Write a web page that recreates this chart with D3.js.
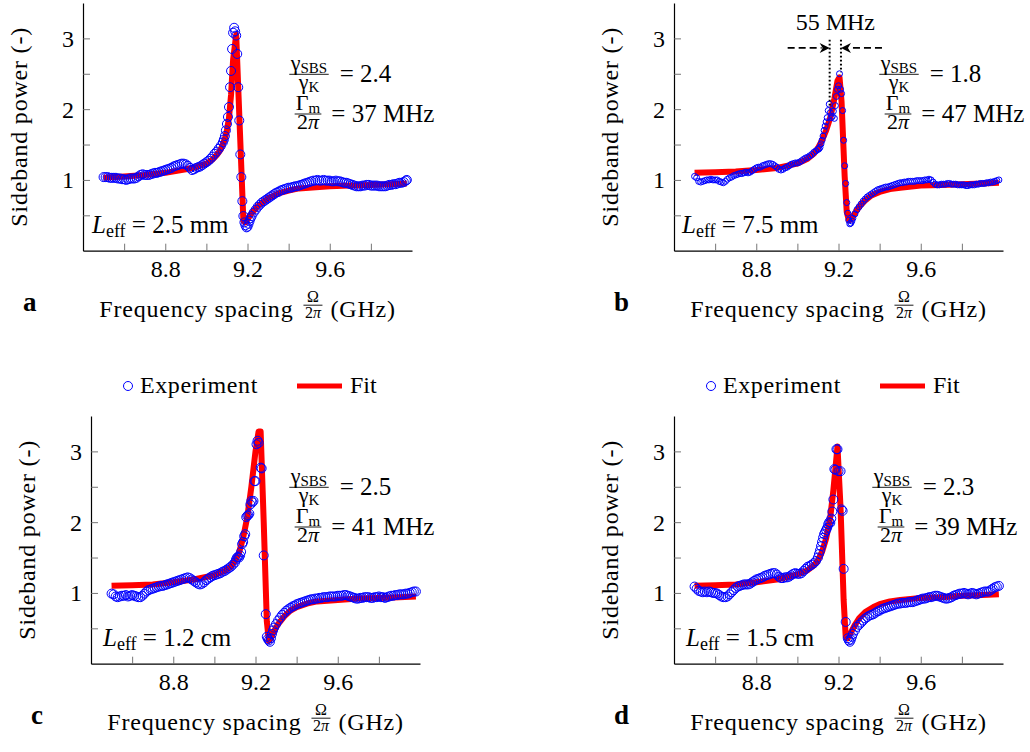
<!DOCTYPE html>
<html>
<head>
<meta charset="utf-8">
<title>Sideband power vs frequency spacing</title>
<script src="https://cdn.jsdelivr.net/npm/d3@7/dist/d3.min.js"></script>
<style>
  body { margin: 0; background: #fff; }
  svg { display: block; }
  svg text { font-family: "Liberation Serif", "DejaVu Serif", serif; fill: #000; }
</style>
</head>
<body>
<svg id="chart" width="1030" height="752"></svg>
<script>
// ---- ticks and labels ----
const xTicks = [8.6, 8.8, 9.0, 9.2, 9.4, 9.6, 9.8];
const xTickLabels = [8.8, 9.2, 9.6];
const yTicks = [0.5, 1, 1.5, 2, 2.5, 3];
const yTickLabels = [1, 2, 3];

const panelLetters = ["a", "b", "c", "d"];
const leffValues = ["2.5 mm", "7.5 mm", "1.2 cm", "1.5 cm"];
const gainRatios = ["2.4", "1.8", "2.5", "2.3"];
const linewidthsMHz = ["37", "47", "41", "39"];

// ---- measured sideband power (GHz, -) ----
const expA = [
[8.50,1.04],[8.51,1.04],[8.52,1.04],[8.53,1.03],[8.54,1.03],[8.55,1.03],[8.56,1.03],[8.57,1.02],[8.58,1.02],[8.59,1.01],
[8.60,1.01],[8.61,1.00],[8.62,1.01],[8.63,1.02],[8.64,1.02],[8.65,1.02],[8.66,1.03],[8.67,1.05],[8.68,1.07],[8.69,1.08],
[8.70,1.07],[8.71,1.07],[8.72,1.07],[8.73,1.08],[8.74,1.09],[8.75,1.10],[8.76,1.10],[8.77,1.11],[8.78,1.12],[8.79,1.13],
[8.80,1.14],[8.81,1.15],[8.82,1.16],[8.83,1.17],[8.84,1.19],[8.85,1.20],[8.86,1.21],[8.87,1.22],[8.88,1.23],[8.89,1.23],
[8.90,1.22],[8.91,1.20],[8.92,1.17],[8.93,1.14],[8.94,1.15],[8.95,1.17],[8.96,1.18],[8.97,1.19],[8.98,1.21],[8.99,1.23],
[9.00,1.25],[9.01,1.27],[9.02,1.30],[9.03,1.33],[9.04,1.37],[9.05,1.40],[9.06,1.44],[9.07,1.48],[9.08,1.53],[9.085,1.57],
[9.09,1.62],[9.095,1.70],[9.10,1.79],[9.105,1.89],[9.11,2.03],[9.115,2.31],[9.12,2.54],[9.125,2.85],[9.13,3.08],[9.135,3.15],
[9.14,3.10],[9.145,3.04],[9.15,2.78],[9.155,2.31],[9.16,1.84],[9.165,1.36],[9.17,1.04],[9.175,0.70],[9.18,0.49],[9.185,0.40],
[9.19,0.36],[9.195,0.33],[9.20,0.34],[9.205,0.38],[9.21,0.42],[9.215,0.46],[9.22,0.49],[9.23,0.54],[9.24,0.58],[9.25,0.62],
[9.26,0.65],[9.27,0.68],[9.28,0.70],[9.29,0.72],[9.30,0.74],[9.31,0.76],[9.32,0.78],[9.33,0.80],[9.34,0.82],[9.35,0.83],
[9.36,0.85],[9.37,0.86],[9.38,0.87],[9.39,0.88],[9.40,0.89],[9.41,0.89],[9.42,0.90],[9.43,0.91],[9.44,0.91],[9.45,0.92],
[9.46,0.93],[9.47,0.94],[9.48,0.95],[9.49,0.96],[9.50,0.97],[9.51,0.98],[9.52,0.99],[9.53,0.99],[9.54,1.00],[9.55,0.99],
[9.56,0.99],[9.57,1.00],[9.58,0.99],[9.59,0.99],[9.60,0.99],[9.61,0.98],[9.62,0.98],[9.63,0.99],[9.64,0.98],[9.65,0.98],
[9.66,0.97],[9.67,0.96],[9.68,0.96],[9.69,0.95],[9.70,0.94],[9.71,0.93],[9.72,0.92],[9.73,0.91],[9.74,0.91],[9.75,0.91],
[9.76,0.92],[9.77,0.92],[9.78,0.93],[9.79,0.93],[9.80,0.92],[9.81,0.92],[9.82,0.92],[9.83,0.92],[9.84,0.91],[9.85,0.91],
[9.86,0.91],[9.87,0.91],[9.88,0.92],[9.89,0.93],[9.90,0.93],[9.91,0.94],[9.92,0.94],[9.93,0.95],[9.94,0.96],[9.95,0.96],
[9.96,0.97],[9.97,0.99],[9.975,1.00]
];

const expB = [
[8.50,1.05],[8.51,1.03],[8.52,0.98],[8.53,0.97],[8.54,0.98],[8.55,0.99],[8.56,1.00],[8.57,1.00],[8.58,1.01],[8.59,1.00],
[8.60,1.00],[8.61,1.00],[8.62,0.98],[8.63,0.97],[8.64,0.96],[8.65,0.98],[8.66,1.01],[8.67,1.03],[8.68,1.04],[8.69,1.06],
[8.70,1.07],[8.71,1.08],[8.72,1.09],[8.73,1.09],[8.74,1.10],[8.75,1.11],[8.76,1.10],[8.77,1.11],[8.78,1.13],[8.79,1.15],
[8.80,1.17],[8.81,1.18],[8.82,1.18],[8.83,1.20],[8.84,1.21],[8.85,1.22],[8.86,1.23],[8.87,1.23],[8.88,1.22],[8.89,1.20],
[8.90,1.18],[8.91,1.15],[8.92,1.14],[8.93,1.15],[8.94,1.17],[8.95,1.18],[8.96,1.20],[8.97,1.22],[8.98,1.23],[8.99,1.24],
[9.00,1.24],[9.01,1.25],[9.02,1.27],[9.03,1.29],[9.04,1.31],[9.05,1.32],[9.06,1.34],[9.07,1.36],[9.08,1.39],[9.09,1.41],
[9.10,1.43],[9.105,1.44],[9.11,1.46],[9.115,1.51],[9.12,1.56],[9.125,1.62],[9.13,1.70],[9.135,1.76],[9.14,1.82],[9.145,1.88],
[9.15,1.98],[9.155,2.07],[9.16,1.95],[9.165,1.88],[9.17,1.90],[9.175,1.97],[9.18,1.87],[9.185,2.05],[9.19,2.18],[9.195,2.28],
[9.20,2.33],[9.205,2.50],[9.21,2.28],[9.215,2.22],[9.22,1.98],[9.225,1.56],[9.23,1.20],[9.235,0.95],[9.24,0.68],[9.245,0.53],
[9.25,0.43],[9.255,0.38],[9.26,0.39],[9.265,0.42],[9.27,0.46],[9.28,0.52],[9.29,0.58],[9.30,0.62],[9.31,0.66],[9.32,0.70],
[9.33,0.73],[9.34,0.76],[9.35,0.78],[9.36,0.80],[9.37,0.82],[9.38,0.84],[9.39,0.86],[9.40,0.87],[9.41,0.88],[9.42,0.89],
[9.43,0.90],[9.44,0.90],[9.45,0.91],[9.46,0.92],[9.47,0.93],[9.48,0.94],[9.49,0.95],[9.50,0.96],[9.51,0.96],[9.52,0.97],
[9.53,0.97],[9.54,0.98],[9.55,0.98],[9.56,0.98],[9.57,0.98],[9.58,0.99],[9.59,0.99],[9.60,0.99],[9.61,0.99],[9.62,1.00],
[9.63,1.00],[9.64,1.01],[9.65,1.00],[9.66,0.97],[9.67,0.94],[9.68,0.93],[9.69,0.93],[9.70,0.94],[9.71,0.94],[9.72,0.94],
[9.73,0.95],[9.74,0.95],[9.75,0.94],[9.76,0.94],[9.77,0.94],[9.78,0.93],[9.79,0.93],[9.80,0.93],[9.81,0.93],[9.82,0.92],
[9.83,0.92],[9.84,0.93],[9.85,0.93],[9.86,0.93],[9.87,0.94],[9.88,0.94],[9.89,0.95],[9.90,0.95],[9.91,0.95],[9.92,0.96],
[9.93,0.96],[9.94,0.97],[9.95,0.97],[9.96,0.98],[9.97,0.99],[9.98,1.00]
];

const expC = [
[8.50,0.99],[8.51,0.98],[8.52,0.95],[8.53,0.94],[8.54,0.95],[8.55,0.96],[8.56,0.96],[8.57,0.97],[8.58,0.95],[8.59,0.96],
[8.60,0.97],[8.61,0.96],[8.62,0.95],[8.63,0.94],[8.64,0.94],[8.65,0.96],[8.66,0.99],[8.67,1.02],[8.68,1.04],[8.69,1.05],
[8.70,1.06],[8.71,1.07],[8.72,1.08],[8.73,1.09],[8.74,1.10],[8.75,1.10],[8.76,1.11],[8.77,1.12],[8.78,1.13],[8.79,1.14],
[8.80,1.15],[8.81,1.16],[8.82,1.17],[8.83,1.18],[8.84,1.19],[8.85,1.20],[8.86,1.21],[8.87,1.22],[8.88,1.21],[8.89,1.19],
[8.90,1.17],[8.91,1.15],[8.92,1.13],[8.93,1.12],[8.94,1.13],[8.95,1.15],[8.96,1.18],[8.97,1.20],[8.98,1.22],[8.99,1.24],
[9.00,1.25],[9.01,1.26],[9.02,1.27],[9.03,1.28],[9.04,1.30],[9.05,1.31],[9.06,1.33],[9.07,1.35],[9.08,1.37],[9.09,1.40],
[9.10,1.43],[9.105,1.47],[9.11,1.50],[9.115,1.51],[9.12,1.50],[9.125,1.53],[9.13,1.58],[9.135,1.69],[9.14,1.72],[9.145,1.80],
[9.15,1.83],[9.155,2.07],[9.16,2.09],[9.165,2.10],[9.17,2.12],[9.175,2.25],[9.18,2.30],[9.185,2.28],[9.19,2.30],[9.195,2.58],
[9.20,2.58],[9.205,3.10],[9.21,3.15],[9.215,3.12],[9.225,2.77],[9.23,2.76],[9.24,1.53],[9.25,0.70],[9.255,0.38],[9.26,0.35],
[9.265,0.33],[9.27,0.31],[9.275,0.36],[9.28,0.42],[9.285,0.47],[9.29,0.51],[9.30,0.56],[9.31,0.61],[9.32,0.65],[9.33,0.69],
[9.34,0.72],[9.35,0.75],[9.36,0.77],[9.37,0.79],[9.38,0.81],[9.39,0.82],[9.40,0.84],[9.41,0.85],[9.42,0.86],[9.43,0.87],
[9.44,0.88],[9.45,0.89],[9.46,0.90],[9.47,0.91],[9.48,0.91],[9.49,0.92],[9.50,0.92],[9.51,0.93],[9.52,0.93],[9.53,0.94],
[9.54,0.94],[9.55,0.94],[9.56,0.95],[9.57,0.95],[9.58,0.95],[9.59,0.95],[9.60,0.96],[9.61,0.96],[9.62,0.96],[9.63,0.97],
[9.64,0.97],[9.65,0.96],[9.66,0.95],[9.67,0.94],[9.68,0.93],[9.69,0.92],[9.70,0.92],[9.71,0.93],[9.72,0.93],[9.73,0.94],
[9.74,0.94],[9.75,0.94],[9.76,0.93],[9.77,0.93],[9.78,0.94],[9.79,0.94],[9.80,0.95],[9.81,0.94],[9.82,0.94],[9.83,0.93],
[9.84,0.94],[9.85,0.95],[9.86,0.96],[9.87,0.96],[9.88,0.97],[9.89,0.97],[9.90,0.98],[9.91,0.98],[9.92,0.98],[9.93,0.99],
[9.94,0.99],[9.95,1.00],[9.96,1.01],[9.97,1.02],[9.98,1.02]
];

const expD = [
[8.50,1.09],[8.51,1.06],[8.52,1.03],[8.53,1.02],[8.54,1.01],[8.55,1.02],[8.56,1.01],[8.57,1.02],[8.58,1.01],[8.59,1.00],
[8.60,1.00],[8.61,0.99],[8.62,0.97],[8.63,0.95],[8.64,0.94],[8.65,0.94],[8.66,0.95],[8.67,0.98],[8.68,1.01],[8.69,1.04],
[8.70,1.07],[8.71,1.09],[8.72,1.10],[8.73,1.11],[8.74,1.12],[8.75,1.12],[8.76,1.12],[8.77,1.13],[8.78,1.15],[8.79,1.17],
[8.80,1.19],[8.81,1.20],[8.82,1.21],[8.83,1.22],[8.84,1.24],[8.85,1.25],[8.86,1.26],[8.87,1.27],[8.88,1.28],[8.89,1.28],
[8.90,1.26],[8.91,1.23],[8.92,1.21],[8.93,1.21],[8.94,1.22],[8.95,1.22],[8.96,1.23],[8.97,1.25],[8.98,1.27],[8.99,1.28],
[9.00,1.27],[9.01,1.27],[9.02,1.28],[9.03,1.31],[9.04,1.34],[9.05,1.37],[9.06,1.38],[9.07,1.40],[9.08,1.42],[9.09,1.45],
[9.10,1.50],[9.105,1.55],[9.11,1.60],[9.115,1.66],[9.12,1.72],[9.125,1.78],[9.13,1.83],[9.135,1.86],[9.14,1.89],[9.145,1.92],
[9.15,1.97],[9.155,2.00],[9.16,1.99],[9.165,2.05],[9.17,2.15],[9.175,2.32],[9.18,2.75],[9.185,2.74],[9.19,3.03],[9.195,3.03],
[9.20,2.72],[9.21,2.72],[9.215,2.18],[9.22,2.16],[9.225,1.34],[9.235,0.59],[9.245,0.36],[9.25,0.33],[9.255,0.31],[9.26,0.34],
[9.265,0.38],[9.27,0.42],[9.28,0.47],[9.29,0.52],[9.30,0.55],[9.31,0.58],[9.32,0.61],[9.33,0.64],[9.34,0.66],[9.35,0.68],
[9.36,0.69],[9.37,0.70],[9.38,0.72],[9.39,0.74],[9.40,0.75],[9.41,0.77],[9.42,0.78],[9.43,0.79],[9.44,0.80],[9.45,0.81],
[9.46,0.82],[9.47,0.83],[9.48,0.84],[9.49,0.85],[9.50,0.85],[9.51,0.86],[9.52,0.86],[9.53,0.86],[9.54,0.87],[9.55,0.87],
[9.56,0.87],[9.57,0.88],[9.58,0.89],[9.59,0.90],[9.60,0.91],[9.61,0.92],[9.62,0.92],[9.63,0.93],[9.64,0.94],[9.65,0.94],
[9.66,0.95],[9.67,0.96],[9.68,0.96],[9.69,0.95],[9.70,0.94],[9.71,0.93],[9.72,0.92],[9.73,0.92],[9.74,0.93],[9.75,0.94],
[9.76,0.96],[9.77,0.97],[9.78,0.98],[9.79,0.99],[9.80,0.99],[9.81,1.00],[9.82,0.99],[9.83,0.98],[9.84,0.99],[9.85,1.00],
[9.86,0.99],[9.87,0.98],[9.88,0.99],[9.89,1.00],[9.90,1.01],[9.91,1.02],[9.92,1.02],[9.93,1.02],[9.94,1.04],[9.95,1.06],
[9.96,1.08],[9.97,1.09],[9.98,1.10]
];

// ---- fitted curves ----
const fitA = [
[8.50,1.03],[8.60,1.05],[8.70,1.07],[8.80,1.10],[8.90,1.15],[8.95,1.18],[9.00,1.23],[9.03,1.29],[9.05,1.35],[9.07,1.43],
[9.09,1.58],[9.10,1.70],[9.11,1.88],[9.12,2.20],[9.13,2.70],[9.145,3.05],[9.18,0.42],[9.19,0.40],[9.20,0.44],[9.22,0.53],
[9.25,0.63],[9.30,0.74],[9.35,0.81],[9.40,0.85],[9.45,0.88],[9.50,0.89],[9.60,0.91],[9.70,0.92],[9.80,0.93],[9.90,0.94],[9.975,0.95]
];
const fitB = [
[8.50,1.10],[8.60,1.11],[8.70,1.12],[8.80,1.14],[8.90,1.17],[9.00,1.23],[9.05,1.30],[9.08,1.37],[9.10,1.45],[9.12,1.56],
[9.14,1.70],[9.16,1.88],[9.18,2.15],[9.195,2.40],[9.205,2.45],[9.215,2.10],[9.23,1.05],[9.24,0.55],[9.25,0.43],[9.26,0.44],
[9.28,0.53],[9.30,0.62],[9.33,0.71],[9.36,0.78],[9.40,0.83],[9.45,0.87],[9.50,0.89],[9.60,0.92],[9.70,0.93],[9.80,0.94],[9.90,0.95],[9.98,0.96]
];
const fitC = [
[8.50,1.10],[8.60,1.11],[8.70,1.12],[8.80,1.15],[8.90,1.19],[9.00,1.25],[9.05,1.31],[9.08,1.37],[9.10,1.45],[9.12,1.57],
[9.14,1.78],[9.16,2.07],[9.18,2.50],[9.20,3.00],[9.215,3.28],[9.225,3.28],[9.24,2.00],[9.255,0.60],[9.265,0.32],[9.275,0.36],
[9.29,0.46],[9.31,0.56],[9.34,0.67],[9.37,0.75],[9.40,0.80],[9.45,0.85],[9.50,0.88],[9.60,0.90],[9.70,0.92],[9.80,0.93],[9.90,0.94],[9.98,0.95]
];
const fitD = [
[8.50,1.10],[8.60,1.11],[8.70,1.12],[8.80,1.15],[8.90,1.19],[9.00,1.26],[9.05,1.32],[9.08,1.39],[9.10,1.46],[9.12,1.58],
[9.14,1.77],[9.16,2.07],[9.175,2.45],[9.195,3.07],[9.21,2.20],[9.225,0.90],[9.235,0.38],[9.245,0.36],[9.26,0.44],[9.28,0.55],
[9.30,0.64],[9.33,0.73],[9.37,0.80],[9.40,0.84],[9.45,0.88],[9.50,0.90],[9.60,0.93],[9.70,0.94],[9.80,0.96],[9.90,0.97],[9.98,0.98]
];

// linewidth marker in panel b
const fwhmEdges = [9.157, 9.212];
const fwhmGuideEnds = [2.05, 2.52];
const fwhmLabel = "55 MHz";

const experiments = [expA, expB, expC, expD];
const fits = [fitA, fitB, fitC, fitD];

// ---- layout ----
const SERIF = '"Liberation Serif", "DejaVu Serif", serif';
const W = 329, H = 247.7;
const layout = [
  {left: 83,  top: 3,   fracDx: 226, leffDx: 9,  r: 4.5},
  {left: 674, top: 3,   fracDx: 225, leffDx: 8,  r: 3},
  {left: 91,  top: 416, fracDx: 218, leffDx: 12, r: 4.5},
  {left: 674, top: 416, fracDx: 218, leffDx: 12, r: 4.5}
];

const svg = d3.select("#chart");
svg.append("rect").attr("width", 1030).attr("height", 752).attr("fill", "#fff");

const x = d3.scaleLinear().domain([8.4, 10.0]).range([0, W]);
const y = d3.scaleLinear().domain([0, 3.5]).range([H, 0]);

function txt(g) {
  return g.append("text").style("font-family", SERIF).attr("fill", "#000");
}

// text made of pieces: {t, it, sub}
function richText(g, parts, size, subSize) {
  const t = txt(g).attr("font-size", size);
  let shift = 0;
  parts.forEach(p => {
    const ts = t.append("tspan").text(p.t);
    const want = p.sub ? 3 : 0;
    if (want !== shift) { ts.attr("dy", want - shift); shift = want; }
    if (p.sub) ts.attr("font-size", subSize);
    if (p.it) ts.attr("font-style", "italic");
  });
  return t;
}

function fraction(g, cx, barY, num, den, size, subSize, upOff, downOff) {
  const n = richText(g, num, size, subSize).attr("text-anchor", "middle").attr("x", cx).attr("y", barY - upOff);
  const d = richText(g, den, size, subSize).attr("text-anchor", "middle").attr("x", cx).attr("y", barY + downOff);
  const w = Math.max(n.node().getBBox().width, d.node().getBBox().width) + 2;
  g.append("line")
    .attr("x1", cx - w / 2).attr("x2", cx + w / 2)
    .attr("y1", barY).attr("y2", barY)
    .attr("stroke", "#000").attr("stroke-width", 0.9);
  return w;
}

const line = d3.line().x(d => x(d[0])).y(d => y(d[1]));

layout.forEach((L, i) => {
  const g = svg.append("g").attr("transform", `translate(${L.left},${L.top})`);

  // fit underneath, circles on top
  g.append("path")
    .datum(fits[i])
    .attr("d", line)
    .attr("fill", "none")
    .attr("stroke", "#ff0000")
    .attr("stroke-width", 6)
    .attr("stroke-linejoin", "round");

  g.append("g").selectAll("circle")
    .data(experiments[i])
    .join("circle")
    .attr("cx", d => x(d[0]))
    .attr("cy", d => y(d[1]))
    .attr("r", L.r)
    .attr("fill", "none")
    .attr("stroke", "#0000ff")
    .attr("stroke-width", 1);

  // axes (ticks point inwards)
  const xAxis = d3.axisBottom(x).tickValues(xTicks)
    .tickSizeInner(-7).tickSizeOuter(0).tickPadding(9)
    .tickFormat(d => xTickLabels.includes(d) ? d3.format(".1f")(d) : "");
  const yAxis = d3.axisLeft(y).tickValues(yTicks)
    .tickSizeInner(-7).tickSizeOuter(0).tickPadding(9)
    .tickFormat(d => yTickLabels.includes(d) ? String(d) : "");

  const ax = g.append("g").attr("transform", `translate(0,${H})`).call(xAxis);
  const ay = g.append("g").call(yAxis);
  [ax, ay].forEach(a => {
    a.attr("font-family", null);
    a.select(".domain").attr("stroke", "#000").attr("stroke-width", 1.2);
    a.selectAll(".tick line").attr("stroke", "#666").attr("stroke-width", 0.9);
    a.selectAll(".tick text").attr("font-size", 24).attr("fill", "#000")
      .style("font-family", SERIF);
  });
  ax.selectAll(".tick text").attr("dy", "0.72em");
  ay.selectAll(".tick text").attr("dy", "0.33em");

  // y title
  txt(g)
    .attr("transform", `translate(-56.5,${H / 2}) rotate(-90)`)
    .attr("text-anchor", "middle")
    .attr("font-size", 24)
    .attr("letter-spacing", 0.8)
    .text("Sideband power (-)");

  // x title: Frequency spacing Ω/2π (GHz)
  const xt = g.append("g");
  const baseY = H + 66;
  const t1 = txt(xt).attr("font-size", 24).attr("letter-spacing", 0.8)
    .attr("x", 0).attr("y", baseY).text("Frequency spacing");
  const w1 = t1.node().getBBox().width;
  const fg = xt.append("g");
  const fw = fraction(fg, 0, baseY - 11.5, [{t: "Ω"}], [{t: "2"}, {t: "π", it: true}], 16, 12, 3.3, 13);
  const fcx = w1 + 10 + fw / 2;
  fg.attr("transform", `translate(${fcx},0)`);
  const t2 = txt(xt).attr("font-size", 24).attr("letter-spacing", 0.8)
    .attr("x", w1 + 10 + fw + 8).attr("y", baseY).text("(GHz)");
  const total = w1 + 10 + fw + 8 + t2.node().getBBox().width;
  xt.attr("transform", `translate(${W / 2 - total / 2},0)`);

  // panel letter
  txt(g)
    .attr("x", -60).attr("y", H + 60)
    .attr("font-size", 27).attr("font-weight", "bold")
    .text(panelLetters[i]);

  // γSBS/γK and Γm/2π
  const r1 = 71.3, r2 = 111;
  const w2 = fraction(g, L.fracDx, r1,
    [{t: "γ"}, {t: "SBS", sub: true}], [{t: "γ"}, {t: "K", sub: true}], 22, 15, 4.5, 15);
  txt(g).attr("font-size", 25)
    .attr("x", L.fracDx + w2 / 2 + 11).attr("y", r1 + 8)
    .text("= " + gainRatios[i]);
  const w3 = fraction(g, L.fracDx - 1, r2,
    [{t: "Γ"}, {t: "m", sub: true}], [{t: "2"}, {t: "π", it: true}], 22, 15, 4.5, 15);
  txt(g).attr("font-size", 25)
    .attr("x", L.fracDx - 1 + w3 / 2 + 10).attr("y", r2 + 8)
    .text("= " + linewidthsMHz[i] + " MHz");

  // L_eff
  const lt = txt(g).attr("font-size", 25)
    .attr("x", L.leffDx).attr("y", 230);
  lt.append("tspan").attr("font-style", "italic").text("L");
  lt.append("tspan").attr("font-size", 18).attr("dy", 4).text("eff");
  lt.append("tspan").attr("dy", -4).text(" = " + leffValues[i]);

  // legend above the lower panels
  if (i >= 2) {
    const ly = -30;
    g.append("circle").attr("cx", 37).attr("cy", ly).attr("r", 4.5)
      .attr("fill", "none").attr("stroke", "#0000ff").attr("stroke-width", 1);
    txt(g).attr("font-size", 24).attr("letter-spacing", 0.6).attr("x", 49).attr("y", ly + 7)
      .text("Experiment");
    g.append("line").attr("x1", 206).attr("x2", 251).attr("y1", ly).attr("y2", ly)
      .attr("stroke", "#ff0000").attr("stroke-width", 5);
    txt(g).attr("font-size", 24).attr("x", 259).attr("y", ly + 7)
      .text("Fit");
  }

  // 55 MHz marker in panel b
  if (i === 1) {
    const xa = x(fwhmEdges[0]), xb = x(fwhmEdges[1]);
    txt(g).attr("font-size", 24).attr("text-anchor", "middle")
      .attr("x", (xa + xb) / 2).attr("y", y(3.12)).text(fwhmLabel);
    fwhmEdges.forEach((e, k) => {
      g.append("line")
        .attr("x1", x(e)).attr("x2", x(e))
        .attr("y1", y(2.98)).attr("y2", y(fwhmGuideEnds[k]))
        .attr("stroke", "#000").attr("stroke-width", 2)
        .attr("stroke-dasharray", "1.6,2.4");
    });
    const ay0 = y(2.865);
    g.append("line").attr("x1", xa - 42).attr("x2", xa - 8).attr("y1", ay0).attr("y2", ay0)
      .attr("stroke", "#000").attr("stroke-width", 1.8).attr("stroke-dasharray", "7,4");
    g.append("line").attr("x1", xb + 41).attr("x2", xb + 8).attr("y1", ay0).attr("y2", ay0)
      .attr("stroke", "#000").attr("stroke-width", 1.8).attr("stroke-dasharray", "7,4");
    const head = (tx, dir) => `M${tx},${ay0} L${tx - dir * 10},${ay0 - 5} L${tx - dir * 7},${ay0} L${tx - dir * 10},${ay0 + 5} Z`;
    g.append("path").attr("d", head(xa, 1)).attr("fill", "#000");
    g.append("path").attr("d", head(xb, -1)).attr("fill", "#000");
  }
});
</script>
</body>
</html>
